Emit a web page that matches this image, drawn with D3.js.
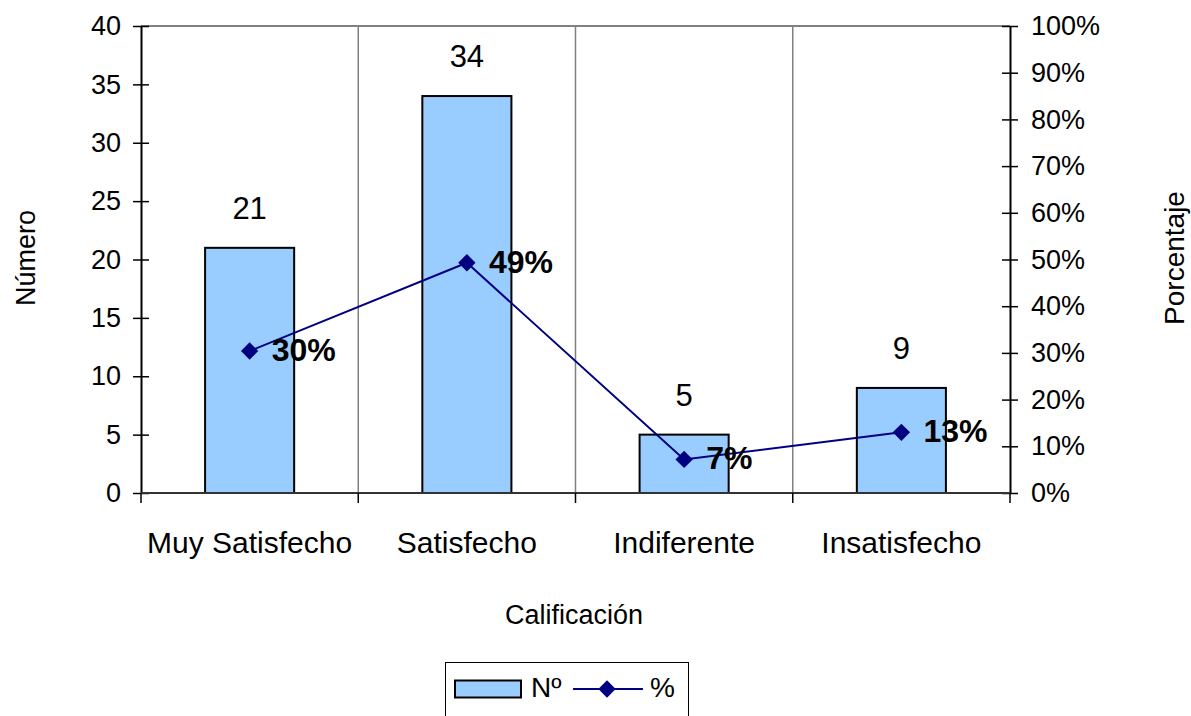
<!DOCTYPE html>
<html>
<head>
<meta charset="utf-8">
<script src="https://cdn.jsdelivr.net/npm/d3@7"></script>
<style>
  html, body { margin: 0; padding: 0; background: #fff; }
  svg { display: block; font-family: "Liberation Sans", Arial, sans-serif; }
</style>
</head>
<body>
<svg id="chart" width="1191" height="716"></svg>
<script>
const categories = ["Muy Satisfecho", "Satisfecho", "Indiferente", "Insatisfecho"];
const counts = [21, 34, 5, 9];
const percents = [0.304, 0.493, 0.072, 0.130];
const percentLabels = ["30%", "49%", "7%", "13%"];
const leftTicks = [0, 5, 10, 15, 20, 25, 30, 35, 40];
const rightTicks = [0, 0.1, 0.2, 0.3, 0.4, 0.5, 0.6, 0.7, 0.8, 0.9, 1.0];

const svg = d3.select("#chart");
const L = 141, R = 1010, T = 26, B = 493;

const x = d3.scaleBand().domain(categories).range([L, R]).paddingInner(0).paddingOuter(0);
const yL = d3.scaleLinear().domain([0, 40]).range([B, T]);
const yR = d3.scaleLinear().domain([0, 1]).range([B, T]);
const grid = "#808080";

// Gridlines
svg.append("line").attr("x1", L).attr("x2", R).attr("y1", yL(40)).attr("y2", yL(40))
  .attr("stroke", grid).attr("stroke-width", 2);
svg.selectAll("line.vgrid").data(categories.slice(1)).enter().append("line")
  .attr("class", "vgrid")
  .attr("x1", d => x(d)).attr("x2", d => x(d))
  .attr("y1", T).attr("y2", B)
  .attr("stroke", grid).attr("stroke-width", 1.5);

// Bars
const bw = x.bandwidth() * 0.41;
svg.selectAll("rect.bar").data(categories).enter().append("rect")
  .attr("class", "bar")
  .attr("x", d => x(d) + x.bandwidth() / 2 - bw / 2)
  .attr("y", (d, i) => yL(counts[i]))
  .attr("width", bw)
  .attr("height", (d, i) => B - yL(counts[i]))
  .attr("fill", "#99CCFF").attr("stroke", "#000").attr("stroke-width", 2);

// Count labels
svg.selectAll("text.cnt").data(categories).enter().append("text")
  .attr("class", "cnt")
  .attr("x", d => x(d) + x.bandwidth() / 2)
  .attr("y", (d, i) => yL(counts[i]) - 29)
  .attr("text-anchor", "middle")
  .attr("font-size", 31)
  .text((d, i) => counts[i]);

// Left axis
const gL = svg.append("g").attr("transform", `translate(${L},0)`)
  .call(d3.axisLeft(yL).tickValues(leftTicks).tickFormat(d3.format("d")).tickSizeOuter(0));
gL.select(".domain").attr("stroke", "#000").attr("stroke-width", 2);
gL.selectAll(".tick line").attr("x1", -8).attr("x2", 8).attr("stroke", "#000").attr("stroke-width", 1.5);
gL.selectAll(".tick text").attr("x", -20).attr("font-size", 27).attr("font-family", "Liberation Sans, Arial, sans-serif").attr("fill", "#000");

// Right axis
const gR = svg.append("g").attr("transform", `translate(${R},0)`)
  .call(d3.axisRight(yR).tickValues(rightTicks).tickFormat(d3.format(".0%")).tickSizeOuter(0));
gR.select(".domain").attr("stroke", "#000").attr("stroke-width", 2);
gR.selectAll(".tick line").attr("x1", -8).attr("x2", 8).attr("stroke", "#000").attr("stroke-width", 1.5);
gR.selectAll(".tick text").attr("x", 21).attr("font-size", 27).attr("font-family", "Liberation Sans, Arial, sans-serif").attr("fill", "#000");

// Bottom axis
svg.append("line").attr("x1", L).attr("x2", R).attr("y1", B).attr("y2", B)
  .attr("stroke", "#333").attr("stroke-width", 2);
const bounds = categories.map(d => x(d)).concat([x.range()[1]]);
svg.selectAll("line.xtick").data(bounds).enter().append("line")
  .attr("class", "xtick")
  .attr("x1", d => d).attr("x2", d => d)
  .attr("y1", B).attr("y2", B + 10)
  .attr("stroke", "#000").attr("stroke-width", 1.5);
svg.selectAll("text.cat").data(categories).enter().append("text")
  .attr("class", "cat")
  .attr("x", d => x(d) + x.bandwidth() / 2)
  .attr("y", 553)
  .attr("text-anchor", "middle")
  .attr("font-size", 30)
  .text(d => d);

// Line series
const pts = categories.map((c, i) => [x(c) + x.bandwidth() / 2, yR(percents[i])]);
svg.append("path").attr("d", d3.line()(pts))
  .attr("fill", "none").attr("stroke", "#000080").attr("stroke-width", 2);
svg.selectAll("path.mk").data(pts).enter().append("path")
  .attr("class", "mk")
  .attr("transform", d => `translate(${d[0]},${d[1]}) rotate(45)`)
  .attr("d", d3.symbol().type(d3.symbolSquare).size(150))
  .attr("fill", "#000080");
svg.selectAll("text.pct").data(pts).enter().append("text")
  .attr("class", "pct")
  .attr("x", d => d[0] + 22)
  .attr("y", d => d[1] + 10)
  .attr("font-size", 32).attr("font-weight", "bold")
  .text((d, i) => percentLabels[i]);

// Axis titles
svg.append("text").attr("transform", "translate(35,258) rotate(-90)")
  .attr("text-anchor", "middle").attr("font-size", 27).text("Número");
svg.append("text").attr("transform", "translate(1184,258) rotate(-90)")
  .attr("text-anchor", "middle").attr("font-size", 28).text("Porcentaje");
svg.append("text").attr("x", 574).attr("y", 624)
  .attr("text-anchor", "middle").attr("font-size", 27).text("Calificación");

// Legend
const lg = svg.append("g");
lg.append("rect").attr("x", 445.5).attr("y", 662.5).attr("width", 243).attr("height", 70)
  .attr("fill", "#fff").attr("stroke", "#000").attr("stroke-width", 1);
lg.append("rect").attr("x", 455).attr("y", 680.5).attr("width", 66).attr("height", 17)
  .attr("fill", "#99CCFF").attr("stroke", "#000").attr("stroke-width", 2);
lg.append("text").attr("x", 531).attr("y", 697).attr("font-size", 28).text("Nº");
lg.append("line").attr("x1", 573).attr("x2", 643).attr("y1", 689).attr("y2", 689)
  .attr("stroke", "#000080").attr("stroke-width", 2);
lg.append("path").attr("transform", "translate(607,689) rotate(45)")
  .attr("d", d3.symbol().type(d3.symbolSquare).size(150)).attr("fill", "#000080");
lg.append("text").attr("x", 650).attr("y", 697).attr("font-size", 28).text("%");
</script>
</body>
</html>
